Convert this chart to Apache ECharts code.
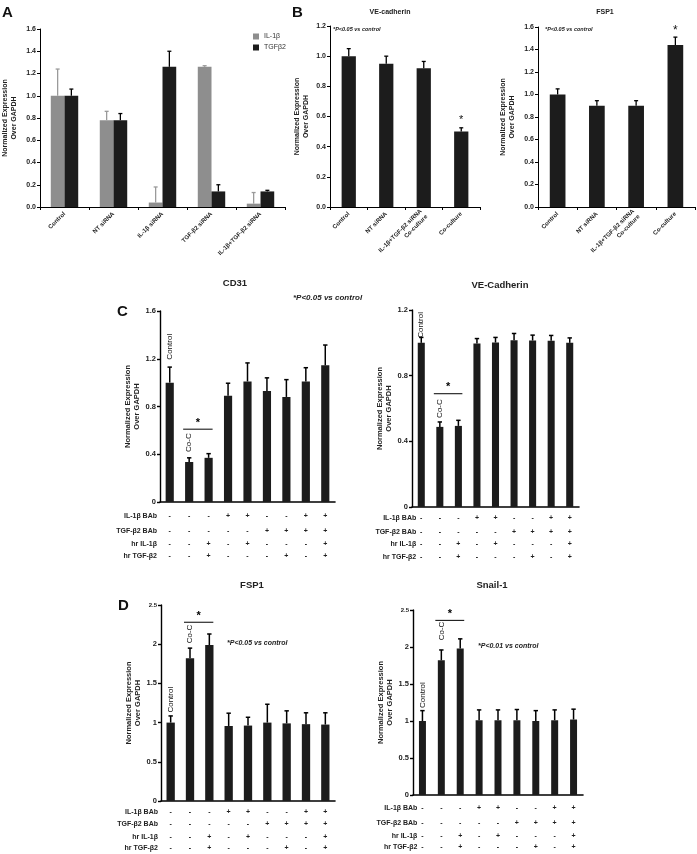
<!DOCTYPE html>
<html><head><meta charset="utf-8">
<script src="https://cdn.jsdelivr.net/npm/echarts/dist/echarts.min.js"></script>
<style>html,body{margin:0;padding:0;background:#fff}#c{width:697px;height:854px}</style>
</head><body><div id="c"></div>
<script>
// ---------- DATA ----------
const catsA = ['Control','NT siRNA','IL-1β siRNA','TGF-β2 siRNA','IL-1β+TGF-β2 siRNA'];
const aIL1b = [1.0, 0.78, 0.04, 1.26, 0.03];
const aIL1bErr = [0.24, 0.08, 0.14, 0.01, 0.10];
const aTGFb2 = [1.0, 0.78, 1.26, 0.14, 0.14];
const aTGFb2Err = [0.06, 0.06, 0.14, 0.06, 0.01];

const catsB = ['Control','NT siRNA','IL-1β+TGF-β2 siRNA\nCo-culture','Co-culture'];
const bVE = [1.0, 0.95, 0.92, 0.50];
const bVEErr = [0.05, 0.05, 0.045, 0.025];
const bFSP1 = [1.0, 0.90, 0.90, 1.44];
const bFSP1Err = [0.05, 0.045, 0.045, 0.07];

const cols = ['1','2','3','4','5','6','7','8','9'];
const rowNames = ['IL-1β BAb','TGF-β2 BAb','hr IL-1β','hr TGF-β2'];
const rowIL1bBAb  = ['-','-','-','+','+','-','-','+','+'];
const rowTGFb2BAb = ['-','-','-','-','-','+','+','+','+'];
const rowHrIL1b   = ['-','-','+','-','+','-','-','-','+'];
const rowHrTGFb2  = ['-','-','+','-','-','-','+','-','+'];
const rows = [rowIL1bBAb, rowTGFb2BAb, rowHrIL1b, rowHrTGFb2];

const cCD31 = [1.0, 0.335, 0.37, 0.89, 1.01, 0.93, 0.88, 1.01, 1.145];
const cCD31Err = [0.13, 0.035, 0.035, 0.105, 0.155, 0.11, 0.145, 0.115, 0.17];
const cVE = [1.0, 0.488, 0.494, 0.996, 1.002, 1.016, 1.014, 1.012, 1.0];
const cVEErr = [0.033, 0.03, 0.034, 0.03, 0.031, 0.041, 0.033, 0.033, 0.03];
const dFSP1 = [1.0, 1.82, 1.99, 0.957, 0.962, 1.0, 0.99, 0.98, 0.975];
const dFSP1Err = [0.085, 0.13, 0.14, 0.163, 0.106, 0.234, 0.16, 0.145, 0.15];
const dSnail = [1.0, 1.82, 1.98, 1.01, 1.01, 1.01, 1.0, 1.01, 1.02];
const dSnailErr = [0.14, 0.14, 0.13, 0.14, 0.14, 0.145, 0.14, 0.14, 0.14];

// significance brackets: [from column, to column, level]
const sigCD31 = [1, 2, 0.61];
const sigCVE = [1, 2, 0.69];
const sigDFSP1 = [1, 2, 2.28];
const sigDSnail = [1, 2, 2.36];

// ---------- STYLE ----------
const FONT = '"Liberation Sans", Arial, sans-serif';
const INK = '#1c1c1c';
const GRAY = '#8e8e8e';
const YNAME = 'Normalized Expression\nOver GAPDH';

const grids = [
  {left:39, top:29, width:246, height:178},
  {left:330, top:26, width:150, height:181},
  {left:538, top:27, width:157, height:180},
  {left:160, top:311, width:175, height:191},
  {left:412, top:310, width:167, height:197},
  {left:161, top:605, width:174, height:196},
  {left:413, top:610, width:170, height:185}
];

function yAx(g, max, interval, gap, fs, fmt, lw) {
  return {
    type:'value', gridIndex:g, min:0, max:max, interval:interval,
    name:YNAME, nameLocation:'middle', nameRotate:90, nameGap:gap,
    nameTextStyle:{fontFamily:FONT, fontSize:fs, fontWeight:'bold', color:'#222', lineHeight:fs+1.5},
    axisLine:{show:true, lineStyle:{color:'#000', width:lw}},
    axisTick:{show:true, length:3, lineStyle:{color:'#000', width:lw}},
    axisLabel:{fontFamily:FONT, fontSize:fs, fontWeight:'bold', color:'#222', margin:4, formatter:fmt,
      rich:{s:{fontFamily:FONT, fontSize:6, fontWeight:'bold', color:'#222'}}},
    splitLine:{show:false}
  };
}
function xTop(g, data, fs) {
  return {
    type:'category', gridIndex:g, data:data,
    axisLine:{lineStyle:{color:'#000', width:1}},
    axisTick:{show:true, length:3, lineStyle:{color:'#000'}},
    axisLabel:{interval:0, rotate:45, fontFamily:FONT, fontSize:fs, fontWeight:'bold', color:'#222', margin:6, lineHeight:fs+2}
  };
}
function xMain(g) {
  return {type:'category', gridIndex:g, data:cols,
    axisLine:{lineStyle:{color:'#000', width:1.6}}, axisTick:{show:false}, axisLabel:{show:false}};
}
function xRow(g, r, off, ng) {
  return {type:'category', gridIndex:g, data:rows[r], position:'bottom', offset:off,
    axisLine:{show:false}, axisTick:{show:false},
    axisLabel:{interval:0, margin:0, verticalAlign:'middle', fontFamily:FONT, fontSize:7, fontWeight:'bold', color:'#222'},
    name:rowNames[r], nameLocation:'start', nameGap:ng,
    nameTextStyle:{fontFamily:FONT, fontSize:7, fontWeight:'bold', color:'#222', align:'right', verticalAlign:'middle'}};
}

const f1 = v => v.toFixed(1);
const fC = v => v === 0 ? '0' : v.toFixed(1);
const fD = v => v === 2.5 ? '{s|2.5}' : String(v);

const xAxes = [
  xTop(0, catsA, 6), xTop(1, catsB, 6), xTop(2, catsB, 6)
];
const rowOffsets = {3:[14,29,42,54], 4:[11,25,37,50], 5:[11,23,36,47], 6:[13,28,41,52]};
const rowGaps = {3:3, 4:-6, 5:3, 6:-6};
const mainIdx = {};
[3,4,5,6].forEach(g => {
  mainIdx[g] = xAxes.length;
  xAxes.push(xMain(g));
  for (let r = 0; r < 4; r++) xAxes.push(xRow(g, r, rowOffsets[g][r], rowGaps[g]));
});

const yAxes = [
  yAx(0, 1.6, 0.2, 22, 7, f1, 1),
  yAx(1, 1.2, 0.2, 20, 7, f1, 1),
  yAx(2, 1.6, 0.2, 22, 7, f1, 1),
  yAx(3, 1.6, 0.4, 17, 7.5, fC, 1.4),
  yAx(4, 1.2, 0.4, 17, 7.5, fC, 1.4),
  yAx(5, 2.5, 0.5, 16, 7.5, fD, 1.4),
  yAx(6, 2.5, 0.5, 16, 7.5, fD, 1.4)
];

function errRender(offFrac, color, cap, lw) {
  return function(params, api) {
    const i = api.value(0);
    const b = api.coord([i, api.value(1)]);
    const t = api.coord([i, api.value(2)]);
    const bw = api.size([1, 0])[0];
    const x = b[0] + offFrac * bw;
    return {type:'group', children:[
      {type:'line', shape:{x1:x, y1:b[1], x2:x, y2:t[1]}, style:{stroke:color, lineWidth:lw}},
      {type:'line', shape:{x1:x-cap, y1:t[1], x2:x+cap, y2:t[1]}, style:{stroke:color, lineWidth:lw}}
    ]};
  };
}
function errSeries(xi, yi, vals, errs, offFrac, color, cap, lw) {
  return {type:'custom', xAxisIndex:xi, yAxisIndex:yi, z:4, silent:true,
    renderItem:errRender(offFrac, color, cap, lw),
    encode:{x:0, y:[1,2]},
    data:vals.map((v, i) => [i, v, v + errs[i]])};
}
function sigSeries(xi, yi, sig) {
  return {type:'custom', xAxisIndex:xi, yAxisIndex:yi, z:5, silent:true,
    encode:{x:[0,1], y:2},
    renderItem:function(params, api) {
      const p1 = api.coord([api.value(0), api.value(2)]);
      const p2 = api.coord([api.value(1), api.value(2)]);
      return {type:'group', children:[
        {type:'line', shape:{x1:p1[0]-6, y1:p1[1], x2:p2[0]+4, y2:p1[1]}, style:{stroke:'#000', lineWidth:1}},
        {type:'text', x:(p1[0]+p2[0])/2 - 1, y:p1[1]-1, style:{text:'*', font:'bold 11px '+FONT, fill:'#000', textAlign:'center', textVerticalAlign:'bottom'}}
      ]};
    },
    data:[sig]};
}
function barData(vals, labels) {
  return vals.map((v, i) => {
    const L = labels[i];
    if (!L) return v;
    return {value:v, label:Object.assign({show:true, position:'top', fontFamily:FONT, color:'#111'}, L)};
  });
}
function vLabel(text, dist) {
  return {formatter:text, rotate:90, align:'left', verticalAlign:'middle', distance:dist, fontSize:8};
}
function cdBar(g, vals, errs, bw, dCtrl, dCoc, sig) {
  const xi = mainIdx[g];
  return [
    {type:'bar', xAxisIndex:xi, yAxisIndex:g, barWidth:bw, itemStyle:{color:INK}, silent:true,
      data:barData(vals, [vLabel('Control', dCtrl), vLabel('Co-C', dCoc)])},
    errSeries(xi, g, vals, errs, 0, '#000', 2.2, 1.5),
    sigSeries(xi, g, sig)
  ];
}

const series = [
  {name:'IL-1β', type:'bar', xAxisIndex:0, yAxisIndex:0, barWidth:'28%', barGap:'0%', itemStyle:{color:GRAY}, data:aIL1b, silent:true},
  {name:'TGFβ2', type:'bar', xAxisIndex:0, yAxisIndex:0, barWidth:'28%', barGap:'0%', itemStyle:{color:INK}, data:aTGFb2, silent:true},
  errSeries(0, 0, aIL1b, aIL1bErr, -0.14, '#9a9a9a', 2, 1.3),
  errSeries(0, 0, aTGFb2, aTGFb2Err, 0.14, '#000', 2, 1.3),
  {type:'bar', xAxisIndex:1, yAxisIndex:1, barWidth:'38%', itemStyle:{color:INK}, silent:true,
    data:barData(bVE, [null, null, null, {formatter:'*', fontSize:11, distance:6}])},
  errSeries(1, 1, bVE, bVEErr, 0, '#000', 2, 1.3),
  {type:'bar', xAxisIndex:2, yAxisIndex:2, barWidth:'40%', itemStyle:{color:INK}, silent:true,
    data:barData(bFSP1, [null, null, null, {formatter:'*', fontSize:12, distance:8}])},
  errSeries(2, 2, bFSP1, bFSP1Err, 0, '#000', 2, 1.3),
  ...cdBar(3, cCD31, cCD31Err, '42%', 23, 10, sigCD31),
  ...cdBar(4, cVE, cVEErr, '38%', 5, 9, sigCVE),
  ...cdBar(5, dFSP1, dFSP1Err, '43%', 10, 15, sigDFSP1),
  ...cdBar(6, dSnail, dSnailErr, '37%', 13, 20, sigDSnail)
];

function txt(x, y, text, font, align, fill) {
  return {type:'text', x:x, y:y, silent:true,
    style:{text:text, font:font, fill:fill || '#111', textAlign:align || 'left', textVerticalAlign:'middle'}};
}
const graphic = [
  txt(2, 13, 'A', 'bold 15px ' + FONT),
  txt(292, 13, 'B', 'bold 15px ' + FONT),
  txt(117, 312, 'C', 'bold 15px ' + FONT),
  txt(118, 606, 'D', 'bold 15px ' + FONT),
  txt(390, 12, 'VE-cadherin', 'bold 7px ' + FONT, 'center', '#222'),
  txt(605, 12, 'FSP1', 'bold 7px ' + FONT, 'center', '#222'),
  txt(235, 283, 'CD31', 'bold 9.5px ' + FONT, 'center', '#222'),
  txt(500, 285, 'VE-Cadherin', 'bold 9.5px ' + FONT, 'center', '#222'),
  txt(252, 585, 'FSP1', 'bold 9.5px ' + FONT, 'center', '#222'),
  txt(492, 585, 'Snail-1', 'bold 9.5px ' + FONT, 'center', '#222'),
  txt(333, 29, '*P<0.05 vs control', 'italic bold 5.5px ' + FONT, 'left', '#222'),
  txt(545, 29, '*P<0.05 vs control', 'italic bold 5.5px ' + FONT, 'left', '#222'),
  txt(293, 298, '*P<0.05 vs control', 'italic bold 8px ' + FONT, 'left', '#222'),
  txt(227, 643, '*P<0.05 vs control', 'italic bold 7px ' + FONT, 'left', '#222'),
  txt(478, 646, '*P<0.01 vs control', 'italic bold 7px ' + FONT, 'left', '#222')
];

const chart = echarts.init(document.getElementById('c'), null, {renderer:'canvas'});
chart.setOption({
  animation:false,
  backgroundColor:'#fff',
  textStyle:{fontFamily:FONT},
  grid:grids,
  xAxis:xAxes,
  yAxis:yAxes,
  legend:{data:['IL-1β','TGFβ2'], orient:'vertical', left:248, top:28, itemWidth:6, itemHeight:6, itemGap:4,
    icon:'rect', textStyle:{fontFamily:FONT, fontSize:7, color:'#333'}},
  graphic:graphic,
  series:series
});
</script>
</body></html>
